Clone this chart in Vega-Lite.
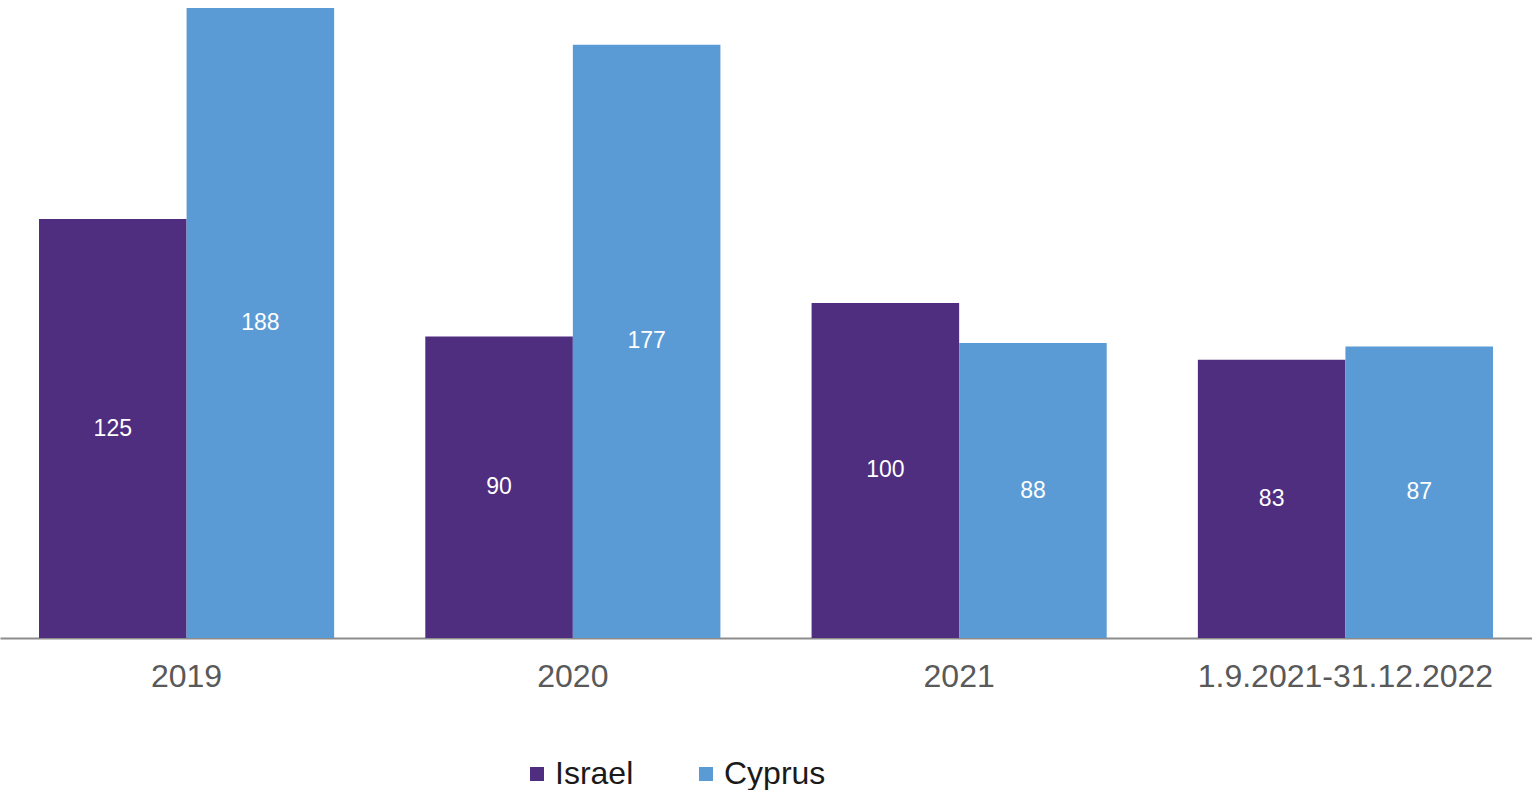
{
  "$schema": "https://vega.github.io/schema/vega-lite/v6.json",
  "width": 1532,
  "height": 630,
  "padding": {"left": 0, "top": 8, "right": 0, "bottom": 0},
  "background": "white",
  "config": {
    "view": {"stroke": null},
    "font": "Liberation Sans"
  },
  "data": {
    "values": [
      {"period": "2019", "country": "Israel", "value": 125},
      {"period": "2019", "country": "Cyprus", "value": 188},
      {"period": "2020", "country": "Israel", "value": 90},
      {"period": "2020", "country": "Cyprus", "value": 177},
      {"period": "2021", "country": "Israel", "value": 100},
      {"period": "2021", "country": "Cyprus", "value": 88},
      {"period": "1.9.2021-31.12.2022", "country": "Israel", "value": 83},
      {"period": "1.9.2021-31.12.2022", "country": "Cyprus", "value": 87}
    ]
  },
  "encoding": {
    "x": {
      "field": "period",
      "type": "nominal",
      "sort": ["2019", "2020", "2021", "1.9.2021-31.12.2022"],
      "scale": {"paddingInner": 0.236, "paddingOuter": 0.101},
      "axis": {
        "title": null,
        "labelAngle": 0,
        "labelLimit": 0,
        "labelFont": "Liberation Sans",
        "labelFontSize": 32,
        "labelColor": "#595959",
        "labelPadding": 23,
        "ticks": false,
        "domainColor": "#8c8c8c",
        "domainWidth": 2
      }
    },
    "xOffset": {
      "field": "country",
      "type": "nominal",
      "sort": ["Israel", "Cyprus"],
      "scale": {"paddingInner": 0, "paddingOuter": 0}
    }
  },
  "layer": [
    {
      "mark": {"type": "bar"},
      "encoding": {
        "y": {
          "field": "value",
          "type": "quantitative",
          "scale": {"domain": [0, 188], "nice": false},
          "axis": null
        },
        "color": {
          "field": "country",
          "type": "nominal",
          "sort": ["Israel", "Cyprus"],
          "scale": {"domain": ["Israel", "Cyprus"], "range": ["#4F2D7F", "#5B9BD5"]},
          "legend": {
            "title": null,
            "orient": "none",
            "direction": "horizontal",
            "legendX": 521,
            "legendY": 750,
            "symbolType": "square",
            "symbolSize": 196,
            "symbolStrokeWidth": 0,
            "labelFont": "Liberation Sans",
            "labelFontSize": 32,
            "labelColor": "#1a1a1a",
            "labelOffset": 2,
            "columnPadding": 56
          }
        }
      }
    },
    {
      "mark": {"type": "text", "color": "white", "fontSize": 23, "font": "Liberation Sans", "baseline": "middle"},
      "encoding": {
        "y": {
          "field": "value",
          "type": "quantitative",
          "scale": {"domain": [0, 376], "nice": false},
          "axis": null
        },
        "text": {"field": "value", "type": "quantitative"}
      }
    }
  ],
  "resolve": {"scale": {"y": "independent"}}
}
